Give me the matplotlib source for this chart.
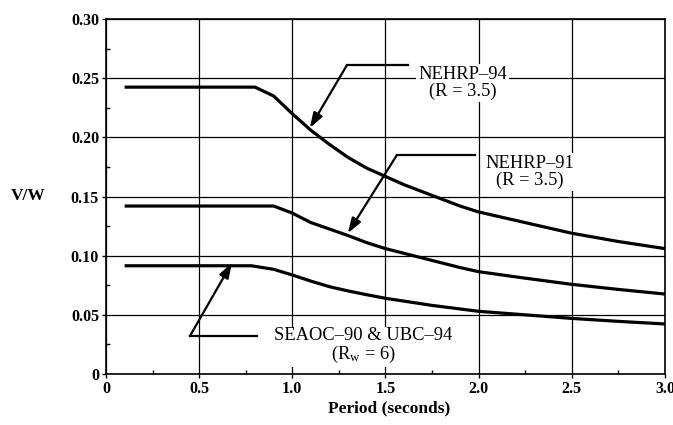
import matplotlib
matplotlib.use("Agg")
import matplotlib.pyplot as plt
from matplotlib.ticker import MultipleLocator, FixedLocator

# ---- data ----
period_94 = [0.1, 0.8, 0.9, 1.0, 1.05, 1.1, 1.2, 1.3, 1.4, 1.5, 1.6, 1.7, 1.8, 1.9, 2.0,
             2.25, 2.5, 2.75, 3.0]
vw_nehrp94 = [0.2425, 0.2425, 0.235, 0.220, 0.213, 0.206, 0.194, 0.183, 0.174, 0.167, 0.160,
              0.154, 0.148, 0.142, 0.137, 0.128, 0.119, 0.112, 0.106]

period_91 = [0.1, 0.9, 1.0, 1.1, 1.2, 1.3, 1.4, 1.5, 1.6, 1.7, 1.8, 1.9, 2.0, 2.25, 2.5, 2.75, 3.0]
vw_nehrp91 = [0.142, 0.142, 0.136, 0.128, 0.1225, 0.117, 0.111, 0.106, 0.102, 0.098, 0.094,
              0.090, 0.0865, 0.081, 0.0758, 0.0715, 0.0676]

period_seaoc = [0.1, 0.78, 0.9, 1.0, 1.1, 1.2, 1.3, 1.4, 1.5, 1.75, 2.0, 2.25, 2.5, 2.75, 3.0]
vw_seaoc = [0.0915, 0.0915, 0.0885, 0.0837, 0.0785, 0.0738, 0.0702, 0.067, 0.064, 0.058, 0.053,
            0.050, 0.047, 0.0445, 0.0423]

x_ticks = [0, 0.5, 1.0, 1.5, 2.0, 2.5, 3.0]
x_ticklabels = ["0", "0.5", "1.0", "1.5", "2.0", "2.5", "3.0"]
y_ticks = [0, 0.05, 0.10, 0.15, 0.20, 0.25, 0.30]
y_ticklabels = ["0", "0.05", "0.10", "0.15", "0.20", "0.25", "0.30"]

label_94 = "NEHRP\u201394\n(R = 3.5)"
label_91 = "NEHRP\u201391\n(R = 3.5)"
label_seaoc = "SEAOC\u201390 & UBC\u201394\n($\\mathregular{R_w}$ = 6)"

# ---- figure ----
plt.rcParams["font.family"] = ["Liberation Serif", "DejaVu Serif"]
plt.rcParams["mathtext.fontset"] = "custom"
plt.rcParams["mathtext.rm"] = "Liberation Serif"
plt.rcParams["mathtext.it"] = "Liberation Serif:italic"

fig = plt.figure(figsize=(6.73, 4.25), dpi=100)
ax = fig.add_axes([0.1575, 0.12, 0.988 - 0.1575, 0.955 - 0.12])

ax.set_xlim(0, 3.0)
ax.set_ylim(0, 0.30)
ax.xaxis.set_major_locator(FixedLocator(x_ticks))
ax.yaxis.set_major_locator(FixedLocator(y_ticks))
ax.set_xticklabels(x_ticklabels, fontsize=11.5, fontweight="bold")
ax.set_yticklabels(y_ticklabels, fontsize=11.5, fontweight="bold")
ax.xaxis.set_minor_locator(MultipleLocator(0.25))
ax.yaxis.set_minor_locator(MultipleLocator(0.025))
ax.tick_params(which="major", direction="out", length=3, width=1, color="black", pad=2)
ax.tick_params(which="minor", direction="in", length=3, width=1, color="black")
ax.grid(True, which="major", color="black", linewidth=0.9)
ax.set_axisbelow(True)
for s in ax.spines.values():
    s.set_linewidth(1.2)
    s.set_color("black")

lw = 2.3
for xs, ys in [(period_94, vw_nehrp94), (period_91, vw_nehrp91), (period_seaoc, vw_seaoc)]:
    ax.plot(xs, ys, color="black", lw=lw, zorder=3, solid_capstyle="butt", solid_joinstyle="round")

# ---- annotations with bent leaders ----
layout = {
    "n94": dict(text=(1.915, 0.246), elbow_r=1.62, elbow_l=1.293, y=0.261, tip=(1.094, 0.208)),
    "n91": dict(text=(2.276, 0.171), elbow_r=1.98, elbow_l=1.561, y=0.185, tip=(1.298, 0.119)),
    "sea": dict(text=(1.38, 0.0235), elbow_r=0.81, elbow_l=0.45, y=0.032, tip=(0.676, 0.094)),
}
labels = {"n94": label_94, "n91": label_91, "sea": label_seaoc}

for key, L in layout.items():
    ax.text(L["text"][0], L["text"][1], labels[key], ha="center", va="center",
            fontsize=13.3, linespacing=1.0, zorder=5,
            bbox=dict(facecolor="white", edgecolor="none", pad=1.5))
    ax.plot([L["elbow_r"], L["elbow_l"]], [L["y"], L["y"]], color="black", lw=1.6, zorder=4)
    ax.annotate("", xy=L["tip"], xytext=(L["elbow_l"], L["y"]),
                arrowprops=dict(arrowstyle="-|>,head_length=0.9,head_width=0.3",
                                color="black", lw=1.6, shrinkA=0, shrinkB=0),
                zorder=4)

fig.text(28 / 673, 1 - 196 / 425, "V/W", ha="center", va="center", fontsize=12.5, fontweight="bold")
fig.text(389 / 673, 1 - 408 / 425, "Period (seconds)", ha="center", va="center", fontsize=12.5, fontweight="bold")

fig.savefig("out.png", dpi=100)
